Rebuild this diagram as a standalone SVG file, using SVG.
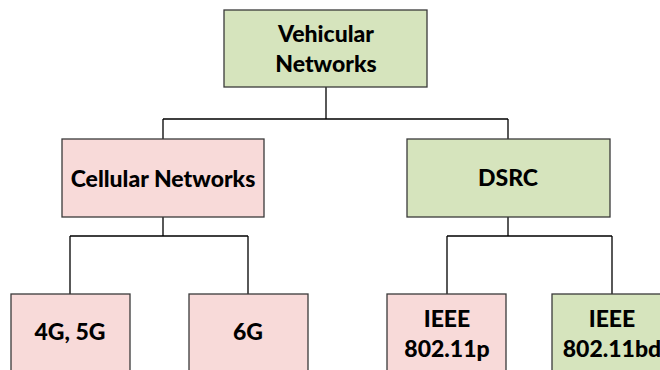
<svg xmlns="http://www.w3.org/2000/svg" width="660" height="370" viewBox="0 0 660 370">
  <style>
    .box { stroke: #3a3a3a; stroke-width: 1.3; }
    .green { fill: #d6e4bd; }
    .pink { fill: #f8dad9; }
    .lbl { font-family: Lato, "Open Sans", "Liberation Sans", sans-serif; font-weight: 900; font-size: 23px; fill: #000; text-anchor: middle; }
    .wire { fill: none; stroke: #000; stroke-width: 1.3; }
  </style>
  <rect width="660" height="370" fill="#fff"/>
  <g id="connectors">
    <path class="wire" d="M326 87 V119 M163 119 H508 M163 119 V139 M508 119 V139"/>
    <path class="wire" d="M163 217 V236 M70 236 H248 M70 236 V294 M248 236 V294"/>
    <path class="wire" d="M508 217 V236 M447 236 H612 M447 236 V294 M612 236 V294"/>
  </g>
  <g id="vehicular-networks">
    <rect class="box green" x="224" y="10" width="203" height="77"/>
    <text class="lbl" x="326" y="42">Vehicular</text>
    <text class="lbl" x="326" y="72">Networks</text>
  </g>
  <g id="cellular-networks">
    <rect class="box pink" x="62" y="139" width="202" height="78"/>
    <text class="lbl" x="163" y="187">Cellular Networks</text>
  </g>
  <g id="dsrc">
    <rect class="box green" x="407" y="139" width="203" height="78"/>
    <text class="lbl" x="508" y="186">DSRC</text>
  </g>
  <g id="g4-5g">
    <rect class="box pink" x="11" y="294" width="119" height="90"/>
    <text class="lbl" x="70" y="340">4G, 5G</text>
  </g>
  <g id="g6g">
    <rect class="box pink" x="189" y="294" width="119" height="90"/>
    <text class="lbl" x="248" y="340">6G</text>
  </g>
  <g id="ieee-80211p">
    <rect class="box pink" x="387" y="294" width="119" height="90"/>
    <text class="lbl" x="447" y="327">IEEE</text>
    <text class="lbl" x="447" y="357">802.11p</text>
  </g>
  <g id="ieee-80211bd">
    <rect class="box green" x="552" y="294" width="119" height="90"/>
    <text class="lbl" x="612" y="327">IEEE</text>
    <text class="lbl" x="612" y="357">802.11bd</text>
  </g>
</svg>
